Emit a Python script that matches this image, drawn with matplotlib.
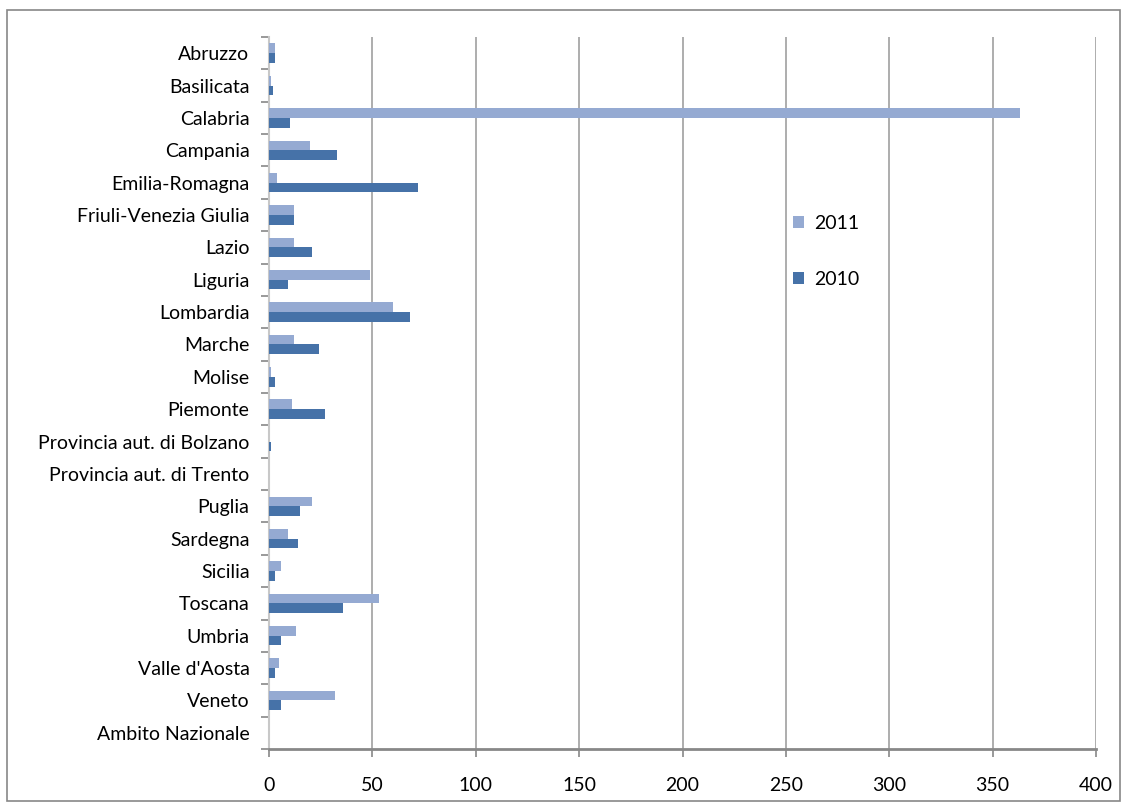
import matplotlib
matplotlib.use("Agg")
import matplotlib.pyplot as plt
import numpy as np
from matplotlib.patches import Rectangle

categories = ["Abruzzo", "Basilicata", "Calabria", "Campania", "Emilia-Romagna",
              "Friuli-Venezia Giulia", "Lazio", "Liguria", "Lombardia", "Marche",
              "Molise", "Piemonte", "Provincia aut. di Bolzano", "Provincia aut. di Trento",
              "Puglia", "Sardegna", "Sicilia", "Toscana", "Umbria", "Valle d'Aosta",
              "Veneto", "Ambito Nazionale"]
v2011 = [3, 1, 363, 20, 4, 12, 12, 49, 60, 12, 1, 11, 0, 0, 21, 9, 6, 53, 13, 5, 32, 0]
v2010 = [3, 2, 10, 33, 72, 12, 21, 9, 68, 24, 3, 27, 1, 0, 15, 14, 3, 36, 6, 3, 6, 0]
xticks = [0, 50, 100, 150, 200, 250, 300, 350, 400]

plt.rcParams['font.family'] = ['Lato', 'DejaVu Sans']

fig = plt.figure(figsize=(11.26, 8.05), dpi=100)
fig.patches.append(Rectangle((7/1126, 4/805), 1113/1126, 791/805, transform=fig.transFigure,
                             fill=False, edgecolor="#878787", linewidth=1.2))
ax = fig.add_axes([269/1126, 1 - 749/805, (1096 - 269)/1126, (749 - 37)/805])

y = np.arange(len(categories))
h = 0.3
ax.barh(y - h/2, v2011, height=h, color="#95AAD2", label="2011", zorder=3)
ax.barh(y + h/2, v2010, height=h, color="#4672A8", label="2010", zorder=3)

ax.set_ylim(len(categories) - 0.5, -0.5)
ax.set_xlim(0, 400)
ax.set_xticks(xticks)
ax.set_xticklabels([str(t) for t in xticks], fontsize=14)
ax.set_yticks(y)
ax.set_yticklabels(categories, fontsize=14)
ax.set_yticks(np.arange(len(categories) + 1) - 0.5, minor=True)
ax.tick_params(axis='y', which='major', length=0, pad=14)
ax.tick_params(axis='y', which='minor', length=6, color="#888888", width=1.2)
ax.tick_params(axis='x', length=6, color="#888888", width=1.2, pad=14)

ax.grid(axis='x', color="#A0A0A0", linewidth=1.2, zorder=0)
for s in ["top", "right"]:
    ax.spines[s].set_visible(False)
ax.spines["bottom"].set_color("#888888")
ax.spines["bottom"].set_linewidth(2)
ax.spines["left"].set_color("#C8C8C8")
ax.spines["left"].set_linewidth(1.5)

ax.legend(loc="upper left", bbox_to_anchor=(0.612, 0.775), frameon=False, fontsize=14,
          handlelength=0.6, handleheight=0.6, labelspacing=2.0, handletextpad=0.5)

fig.savefig("out.png", dpi=100)
